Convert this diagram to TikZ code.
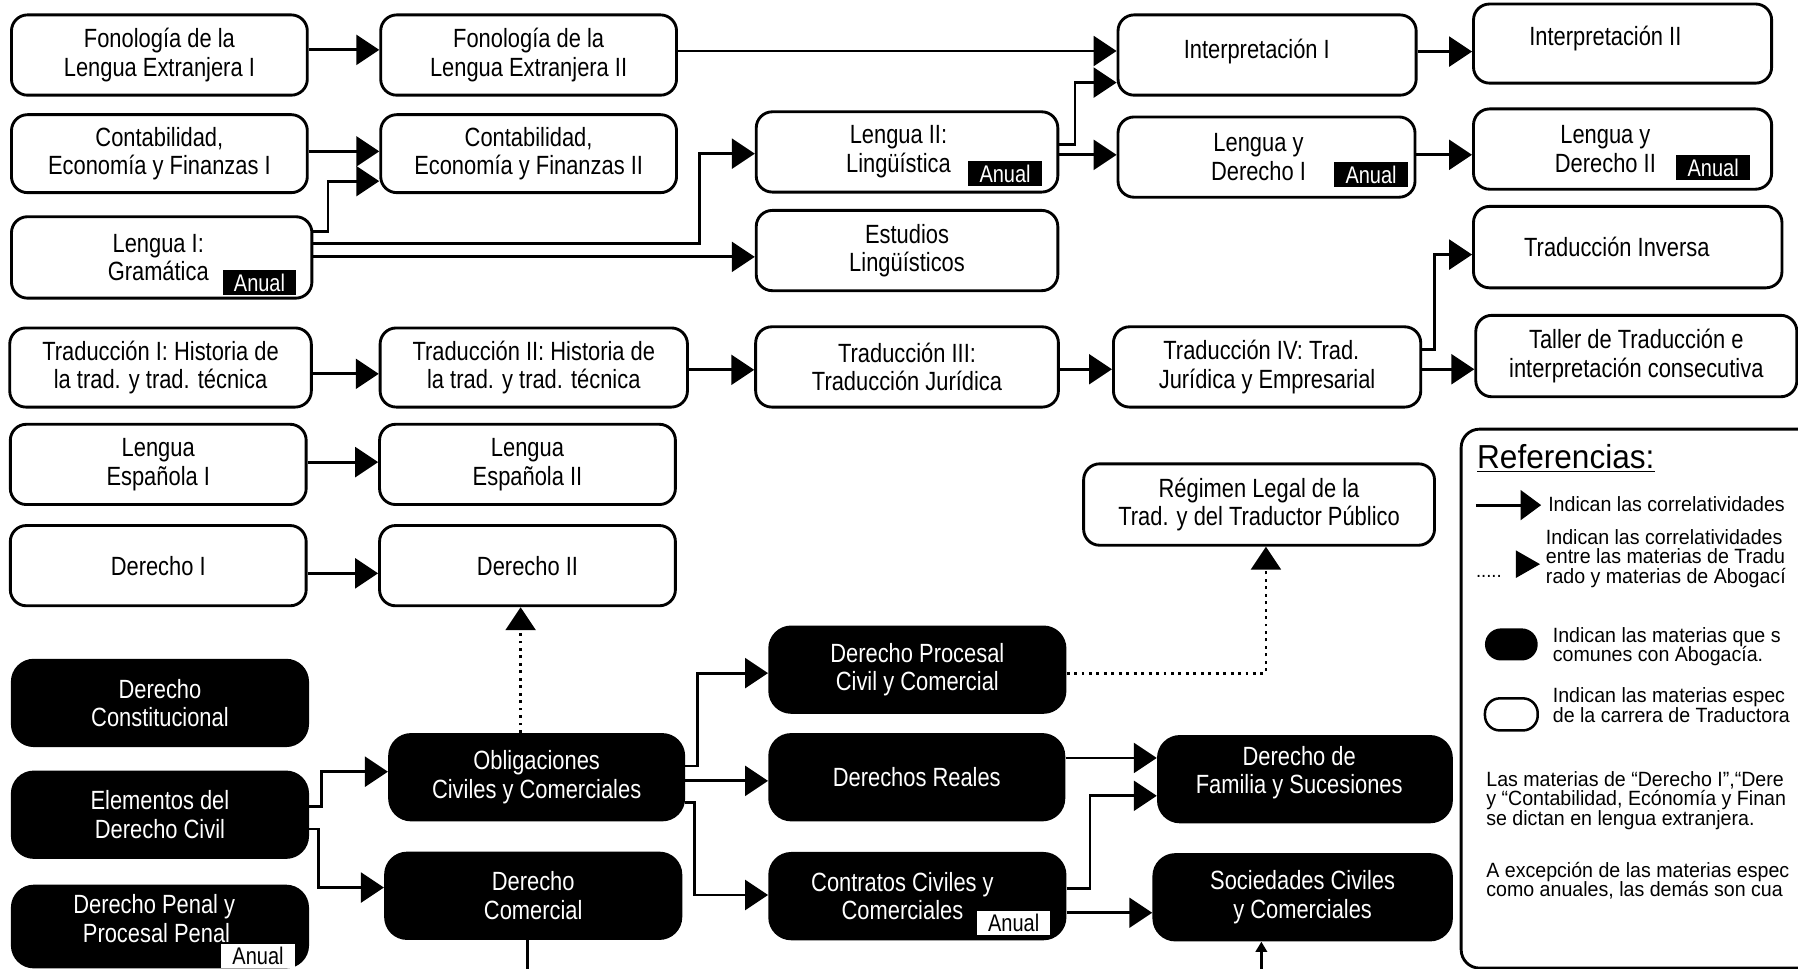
\documentclass[tikz,border=0pt]{standalone}
\usepackage{fontspec}
\setmainfont[FakeStretch=0.83]{Liberation Sans}
\newfontfamily\legfont[FakeStretch=0.95]{Liberation Sans}
\usetikzlibrary{arrows.meta}
\newcommand\mainfs{\fontsize{23}{25}\selectfont}
\newcommand\tagfs{\fontsize{21}{21}\selectfont}
\newcommand\legfs{\legfont\fontsize{18}{17}\selectfont}
\newcommand\reffs{\legfont\fontsize{29}{29}\selectfont}
\newcommand\dotfs{\legfont\fontsize{17}{17}\selectfont}
\newcommand\lsh[1]{\hspace*{#1}}
\begin{document}
\begin{tikzpicture}[x=1pt,y=-1pt,
  wbox/.style={draw,line width=2.5pt,rounded corners=14pt,fill=white,minimum width=258pt,minimum height=70pt,align=center,inner sep=0pt,font=\mainfs},
  bbox/.style={fill=black,text=white,rounded corners=20pt,minimum width=260pt,minimum height=77pt,align=center,inner sep=0pt,font=\mainfs},
  tagb/.style={fill=black,text=white,inner sep=0pt,minimum width=64pt,minimum height=22pt,font=\tagfs},
  tagw/.style={fill=white,text=black,inner sep=0pt,minimum width=64pt,minimum height=21pt,font=\tagfs},
  arr/.style={line width=2.5pt,-{Triangle[length=20pt,width=26pt]}},
  dotarr/.style={arr,dash pattern=on 2.5pt off 4pt},
  leg/.style={anchor=west,inner sep=0pt,align=left,font=\legfs},
]
\useasboundingbox (0,0) rectangle (1568,845);
\clip (0,0) rectangle (1568,845);
\fill[white] (0,0) rectangle (1568,845);

% ---------- white boxes ----------
\node[wbox] (fon1) at (139,48) {Fonología de la\\Lengua Extranjera I};
\node[wbox] (fon2) at (461,48) {Fonología de la\\Lengua Extranjera II};
\node[wbox,minimum width=260pt,text depth=11pt] (int1) at (1105,48) {\lsh{-18pt}Interpretación I};
\node[wbox,minimum width=260pt,minimum height=69pt,text depth=14pt] (int2) at (1415,38) {\lsh{-30pt}Interpretación II};
\node[wbox,minimum height=68pt] (cont1) at (139,134) {Contabilidad,\\Economía y Finanzas I};
\node[wbox,minimum height=68pt] (cont2) at (461,134) {Contabilidad,\\Economía y Finanzas II};
\node[wbox,minimum width=263pt] (leng2) at (791,132.5) {\lsh{-15pt}Lengua II:\\\lsh{-15pt}Lingüística};
\node[wbox,minimum width=259pt] (lyd1) at (1104.5,137) {\lsh{-14pt}Lengua y\\\lsh{-14pt}Derecho I};
\node[wbox,minimum width=260pt] (lyd2) at (1415,130) {\lsh{-30pt}Lengua y\\\lsh{-30pt}Derecho II};
\node[wbox,minimum width=262pt,minimum height=71pt] (leng1) at (141,224.5) {\lsh{-6pt}Lengua I:\\\lsh{-6pt}Gramática};
\node[wbox,minimum width=263pt] (estud) at (791,218.5) {Estudios\\Lingüísticos};
\node[wbox,minimum width=269pt,minimum height=71pt] (trinv) at (1419.5,215.5) {\lsh{-19pt}Traducción Inversa};
\node[wbox,minimum width=263pt,minimum height=69pt] (tr1) at (140,320.5) {Traducción I: Historia de\\la trad. y trad. técnica};
\node[wbox,minimum width=268pt,minimum height=69pt] (tr2) at (465.5,320.5) {Traducción II: Historia de\\la trad. y trad. técnica};
\node[wbox,minimum width=264pt] (tr3) at (791,320) {Traducción III:\\Traducción Jurídica};
\node[wbox,minimum width=268pt] (tr4) at (1105,320) {\lsh{-10pt}Traducción IV: Trad.\\Jurídica y Empresarial};
\node[wbox,minimum width=280pt,minimum height=71pt] (taller) at (1427,310.5) {Taller de Traducción e\\interpretación consecutiva};
\node[wbox] (esp1) at (138,405) {Lengua\\Española I};
\node[wbox] (esp2) at (460,405) {Lengua\\Española II};
\node[wbox,minimum width=306pt,minimum height=71pt] (regimen) at (1098,440) {Régimen Legal de la\\Trad. y del Traductor Público};
\node[wbox] (der1) at (138,493.3) {Derecho I};
\node[wbox] (der2) at (460,493.3) {Derecho II};

% ---------- black boxes ----------
\node[bbox] (dconst) at (139.5,613) {Derecho\\Constitucional};
\node[bbox] (elem) at (139.5,710.5) {Elementos del\\Derecho Civil};
\node[bbox,minimum height=73pt,text depth=14pt] (dpenal) at (139.5,808) {\lsh{-10pt}Derecho Penal y\\\lsh{-6pt}Procesal Penal};
\node[bbox,minimum width=259pt] (oblig) at (468,677.8) {Obligaciones\\Civiles y Comerciales};
\node[bbox] (dcom) at (465,781.2) {Derecho\\Comercial};
\node[bbox] (dproc) at (800,584) {Derecho Procesal\\Civil y Comercial};
\node[bbox,minimum width=259pt] (dreales) at (799.5,677.8) {Derechos Reales};
\node[bbox] (contratos) at (800,781.5) {\lsh{-26pt}Contratos Civiles y\\\lsh{-26pt}Comerciales};
\node[bbox,minimum width=258pt,text depth=16pt] (dfam) at (1138,679.5) {\lsh{-10pt}Derecho de\\\lsh{-10pt}Familia y Sucesiones};
\node[bbox,minimum width=262pt] (socied) at (1136,782.5) {Sociedades Civiles\\y Comerciales};

% ---------- Anual tags ----------
\node[tagb] (tag1) at (226.3,246.4) {Anual};
\node[tagb] (tag2) at (876.5,151.5) {Anual};
\node[tagb] (tag3) at (1195.7,152.5) {Anual};
\node[tagb] (tag4) at (1494,146) {Anual};
\node[tagw] (tag5) at (225,834) {Anual};
\node[tagw] (tag6) at (884,805) {Anual};

% ---------- connectors ----------
\draw[arr] (fon1.east |- 0,43.5) -- (fon2.west |- 0,43.5);
\draw[arr] (fon2.east |- 0,44.5) -- (int1.west |- 0,44.5);
\draw[arr] (int1.east |- 0,45) -- (int2.west |- 0,45);
\draw[arr] (cont1.east |- 0,132) -- (cont2.west |- 0,132);
\draw[arr] (leng1.east |- 0,202) -- (286,202) |- (cont2.west |- 0,158);
\draw[arr] (leng1.east |- 0,212) -- (610,212) |- (leng2.west |- 0,134);
\draw[arr] (leng1.east |- 0,224) -- (estud.west |- 0,224);
\draw[arr] (leng2.east |- 0,126) -- (937.5,126) |- (int1.west |- 0,72);
\draw[arr] (leng2.east |- 0,135) -- (lyd1.west |- 0,135);
\draw[arr] (lyd1.east |- 0,135) -- (lyd2.west |- 0,135);
\draw[arr] (tr1.east |- 0,326) -- (tr2.west |- 0,326);
\draw[arr] (tr2.east |- 0,322.5) -- (tr3.west |- 0,322.5);
\draw[arr] (tr3.east |- 0,322) -- (tr4.west |- 0,322);
\draw[arr] (tr4.east |- 0,322) -- (taller.west |- 0,322);
\draw[arr] (tr4.east |- 0,305) -- (1251,305) |- (trinv.west |- 0,222);
\draw[arr] (esp1.east |- 0,403) -- (esp2.west |- 0,403);
\draw[arr] (der1.east |- 0,500) -- (der2.west |- 0,500);
\draw[dotarr] (oblig.north -| 454,0) -- (der2.south -| 454,0);
\draw[dotarr] (dproc.east |- 0,587) -- (1104,587) -- (regimen.south -| 1104,0);
\draw[arr] (elem.east |- 0,703) -- (280.5,703) |- (oblig.west |- 0,673);
\draw[arr] (elem.east |- 0,723) -- (278,723) |- (dcom.west |- 0,774);
\draw[arr] (oblig.east |- 0,668) -- (608.4,668) |- (dproc.west |- 0,587);
\draw[arr] (oblig.east |- 0,681) -- (dreales.west |- 0,681);
\draw[arr] (oblig.east |- 0,700) -- (606,700) |- (contratos.west |- 0,780.5);
\draw[arr] (dreales.east |- 0,661) -- (dfam.west |- 0,661);
\draw[arr] (contratos.east |- 0,774.5) -- (950.6,774.5) |- (dfam.west |- 0,694);
\draw[arr] (contratos.east |- 0,796) -- (socied.west |- 0,796);
\coordinate (dcomout) at (460,850);
\draw[line width=2.5pt] (dcom.south -| dcomout) -- (dcomout);
\coordinate (socin) at (1100,850);
\draw[line width=2.2pt,-{Triangle[length=9pt,width=10pt]}] (socin) -- (socied.south -| socin);

% ---------- legend ----------
\node[draw,line width=2.5pt,rounded corners=16pt,minimum width=360pt,minimum height=470pt,anchor=north west,inner sep=0pt] (legbox) at (1273,373) {};
\node[anchor=base west,inner sep=0pt,font=\reffs] (ref) at (1288,409) {\underline{Referencias:}};
\coordinate (la0) at (1287,440.5);
\coordinate (la1) at (1344,440.5);
\draw[line width=2.5pt,-{Triangle[length=18pt,width=26pt]}] (la0) -- (la1);
\node[leg] (lt1) at (1350,440) {Indican las correlatividades};
\node[anchor=base west,inner sep=0pt,font=\dotfs] (ldots) at (1287,504) {.....};
\fill (1322,480) -- (1343,492) -- (1322,504) -- cycle;
\node[leg] (lt2) at (1348,487) {Indican las correlatividades\\entre las materias de Tradu\\rado y materias de Abogací};
\node[fill=black,rounded corners=14pt,minimum width=46pt,minimum height=28pt,inner sep=0pt] (lblack) at (1318,562) {};
\node[leg] (lt3) at (1354,564) {Indican las materias que s\\comunes con Abogacía.};
\node[draw,line width=2.2pt,rounded corners=13pt,minimum width=46pt,minimum height=28pt,inner sep=0pt] (lwhite) at (1318,623) {};
\node[leg] (lt4) at (1354,615) {Indican las materias espec\\de la carrera de Traductora};
\node[leg] (lt5) at (1296,698) {Las materias de “Derecho I”,“Dere\\y “Contabilidad, Ecónomía y Finan\\se dictan en lengua extranjera.};
\node[leg] (lt6) at (1296,768) {A excepción de las materias espec\\como anuales, las demás son cua};
\end{tikzpicture}
\end{document}
